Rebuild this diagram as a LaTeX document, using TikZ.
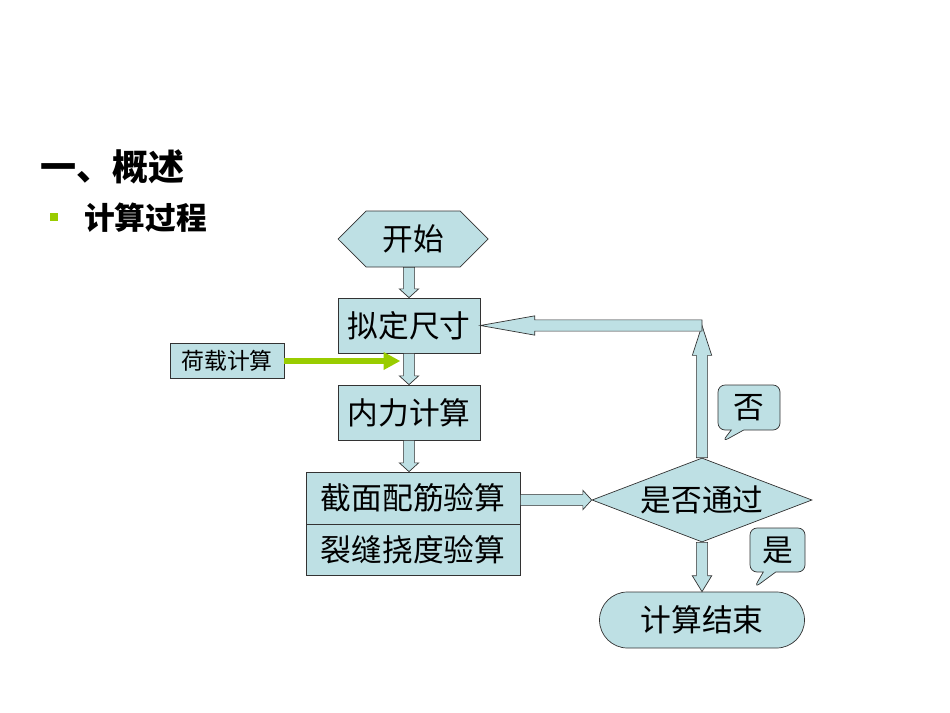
\documentclass[tikz,border=0pt]{standalone}
\usepackage{fontspec}
\setmainfont{Noto Sans CJK SC}
\usetikzlibrary{shapes.geometric, shapes.misc, shapes.symbols, shapes.callouts, calc, arrows.meta}

\definecolor{tuerkis}{RGB}{190,224,228}
\definecolor{gruen}{RGB}{153,204,0}
\newcommand{\pxu}{0.02cm}
% Blockpfeil von #1 nach #2, Spitzenlaenge #3
\newcommand{\blockpfeil}[3]{%
  \coordinate (bp-h) at ($(#2)!#3!(#1)$);
  \draw[blockpfeil] ($(#1)!3.2pt!90:(#2)$) -- ($(bp-h)!3.2pt!90:(#2)$) -- ($(bp-h)!5.5pt!90:(#2)$) -- (#2)
    -- ($(bp-h)!5.5pt!-90:(#2)$) -- ($(bp-h)!3.2pt!-90:(#2)$) -- ($(#1)!3.2pt!-90:(#2)$) -- cycle;}

\begin{document}
\begin{tikzpicture}[x=\pxu, y=-\pxu,
  kasten/.style={draw=black!80, fill=tuerkis, inner sep=0pt, font=\fontsize{17.5pt}{20pt}\selectfont},
  blockpfeil/.style={draw=black!80, fill=tuerkis, line join=miter},
  sprech/.style={kasten, rectangle callout, rounded corners=4pt}]
\useasboundingbox (0,0) rectangle (950,713);

% Ueberschrift
\node[anchor=west, font=\fontsize{20.5pt}{24pt}\selectfont\bfseries] (titel) at (34,167) {一、概述};
\node[fill=gruen, minimum size=8*\pxu, inner sep=0pt] (punkt) at (53.5,216.5) {};
\node[anchor=west, font=\fontsize{17.5pt}{20pt}\selectfont\bfseries] (unter) at (78,218) {计算过程};

% Kaesten
\node[kasten, signal, signal to=west and east, minimum width=150*\pxu, minimum height=56*\pxu] (start) at (413,239) {开始};
\node[kasten, minimum width=142*\pxu, minimum height=55*\pxu] (mass) at (409,325.5) {拟定尺寸};
\node[kasten, minimum width=114*\pxu, minimum height=35*\pxu, font=\fontsize{13pt}{15pt}\selectfont] (last) at (227,361) {荷载计算};
\node[kasten, minimum width=142*\pxu, minimum height=55*\pxu] (kraft) at (409,412.5) {内力计算};
\node[kasten, minimum width=214*\pxu, minimum height=52*\pxu] (bemessung) at (413,498) {截面配筋验算};
\node[kasten, minimum width=214*\pxu, minimum height=51*\pxu] (riss) at (413,549.5) {裂缝挠度验算};
\node[kasten, diamond, aspect=2.6, minimum width=220*\pxu, minimum height=84*\pxu] (frage) at (702,500) {是否通过};
\node[kasten, rounded rectangle, minimum width=205*\pxu, minimum height=56*\pxu] (ende) at (702,620) {计算结束};

% Sprechblasen
\node[sprech, callout absolute pointer={(722,442)}, minimum width=62*\pxu, minimum height=45*\pxu] (nein) at (749,407.5) {否};
\node[sprech, callout absolute pointer={(754,588)}, minimum width=55*\pxu, minimum height=44*\pxu] (ja) at (777.5,550) {是};

% Pfeile
\coordinate (k1) at (start.south -| mass.north);
\blockpfeil{k1}{mass.north}{5pt}
\blockpfeil{mass.south}{kraft.north}{5pt}
\coordinate (k2) at (kraft.south |- bemessung.north);
\blockpfeil{kraft.south}{k2}{5pt}
\coordinate (k3) at (bemessung.east |- frage.west);
\blockpfeil{k3}{frage.west}{5pt}
\coordinate (ecke) at (frage.north |- mass.east);
\blockpfeil{frage.north}{ecke}{17pt}
\blockpfeil{ecke}{mass.east}{31pt}
\blockpfeil{frage.south}{ende.north}{9pt}

% Lastpfeil
\coordinate (ziel) at ($(last.east)+(116,0)$);
\draw[gruen, line width=3.2pt, -{Triangle[length=9.5pt, width=9.5pt]}] (last.east) -- (ziel);
\end{tikzpicture}
\end{document}
